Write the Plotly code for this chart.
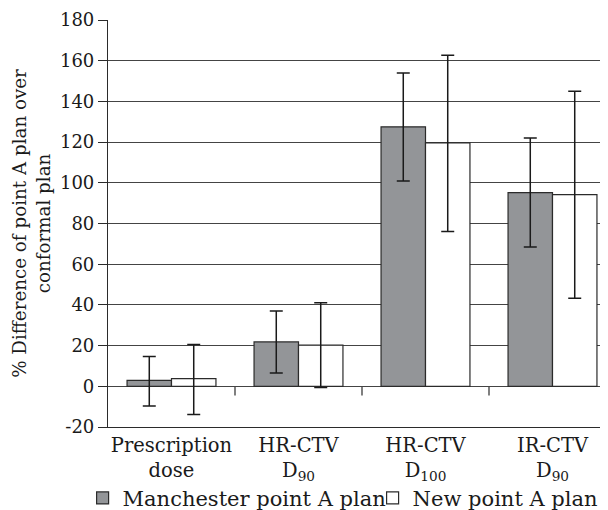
import plotly.graph_objects as go

categories = ["Prescription<br>dose", "HR-CTV<br>D<sub>90</sub>", "HR-CTV<br>D<sub>100</sub>", "IR-CTV<br>D<sub>90</sub>"]
series_names = ["Manchester point A plan", "New point A plan"]
manchester = [2.9, 21.8, 127.5, 95.2]
manchester_hi = [14.7, 37.0, 154.0, 122.0]
manchester_lo = [-9.7, 6.5, 100.9, 68.5]
new_plan = [3.8, 20.2, 119.6, 94.2]
new_hi = [20.6, 41.0, 162.7, 145.0]
new_lo = [-13.8, -0.6, 76.1, 43.3]
y_ticks = list(range(-20, 181, 20))
y_ticktext = [str(v) for v in y_ticks]

FONT = "DejaVu Serif"
DARK = "#2b2b2b"

def err(vals, hi, lo):
    return dict(type="data", symmetric=False,
                array=[h - v for v, h in zip(vals, hi)],
                arrayminus=[v - l for v, l in zip(vals, lo)],
                color="#1a1a1a", thickness=1.5, width=6.5)

fig = go.Figure()
fig.add_trace(go.Bar(x=categories, y=manchester, name=series_names[0],
                     marker=dict(color="#939598", line=dict(color=DARK, width=1.2)),
                     error_y=err(manchester, manchester_hi, manchester_lo)))
fig.add_trace(go.Bar(x=categories, y=new_plan, name=series_names[1],
                     marker=dict(color="#ffffff", line=dict(color=DARK, width=1.2)),
                     error_y=err(new_plan, new_hi, new_lo)))

# category tick marks on the zero line
for i in range(len(categories) - 1):
    fig.add_shape(type="line", xref="x", yref="y", x0=i + 0.5, x1=i + 0.5, y0=0, y1=-4.5,
                  line=dict(color=DARK, width=1.2), layer="below")

fig.update_layout(
    width=608, height=502,
    margin=dict(l=100, r=0, t=12, b=83, autoexpand=False),
    paper_bgcolor="white", plot_bgcolor="white",
    barmode="group", bargap=0.3, bargroupgap=0,
    font=dict(family=FONT, size=18, color="#1a1a1a"),
    showlegend=True,
    legend=dict(orientation="h", x=-0.05, xanchor="left", y=-0.175, yanchor="middle",
                font=dict(size=21), itemwidth=30, traceorder="normal",
                bgcolor="rgba(0,0,0,0)", entrywidth=245, entrywidthmode="pixels"),
    xaxis=dict(type="category", showline=True, linecolor=DARK, linewidth=1.2,
               ticks="", showgrid=False, tickfont=dict(size=19.5)),
    yaxis=dict(range=[-20, 180], tickvals=y_ticks, ticktext=y_ticktext, showgrid=True,
               gridcolor="#444444", gridwidth=1,
               showline=True, linecolor=DARK, linewidth=1.2, ticks="outside", ticklen=9,
               tickcolor=DARK, zeroline=False, tickfont=dict(size=18),
               title=dict(text="% Difference of point A plan over<br>conformal plan",
                          font=dict(size=18.3), standoff=4)),
)

fig.write_html("out.html")
